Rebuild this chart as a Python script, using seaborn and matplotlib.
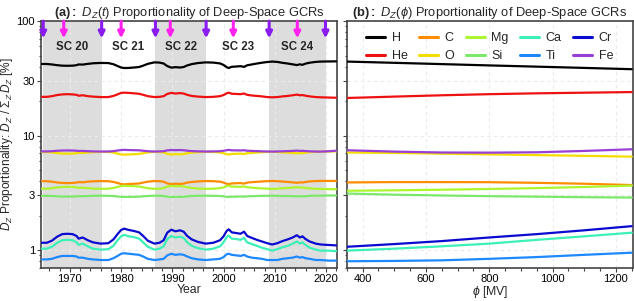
import numpy as np
import pandas as pd
import matplotlib
matplotlib.use("Agg")
import matplotlib.pyplot as plt
from matplotlib.ticker import MultipleLocator, LogLocator, NullFormatter, FixedLocator, FixedFormatter
import seaborn as sns

# ---- panel (a): D_Z(t) ----
years = [1964.5, 1965.5, 1966.5, 1967.5, 1968.5, 1969.5, 1970.5, 1971.3, 1971.7, 1972.5,
         1973.5, 1974.5, 1976.0, 1977.5, 1978.5, 1979.3, 1980.0, 1980.6, 1981.5, 1982.5,
         1983.5, 1984.3, 1985.2, 1986.5, 1987.5, 1988.3, 1989.0, 1989.8, 1990.6, 1991.5,
         1992.2, 1992.9, 1993.8, 1995.0, 1996.5, 1998.0, 1999.3, 2000.0, 2000.6, 2001.0,
         2001.6, 2002.5, 2003.3, 2004.0, 2004.6, 2005.5, 2006.5, 2007.5, 2008.5, 2009.5,
         2010.5, 2011.5, 2012.5, 2013.5, 2014.3, 2014.9, 2015.4, 2016.0, 2016.8, 2018.0,
         2019.0, 2020.5, 2022.0]

H_t = [42.2, 42.2, 41.8, 41.2, 40.8, 40.7, 40.8, 41.2, 41.8, 41.7,
       42.3, 42.8, 43.1, 43.0, 42.0, 40.5, 39.3, 38.9, 39.0, 39.3,
       39.7, 40.8, 42.3, 43.6, 43.4, 42.6, 40.5, 39.2, 39.6, 39.3,
       39.7, 41.0, 42.1, 43.0, 43.6, 43.4, 42.7, 41.4, 39.6, 38.9,
       39.9, 40.1, 40.4, 39.8, 41.1, 41.8, 42.6, 43.3, 43.9, 44.3,
       44.0, 43.2, 42.6, 41.9, 41.3, 41.9, 41.5, 42.5, 43.3, 44.0,
       44.3, 44.4, 44.5]
He_t = [21.8, 21.8, 22.1, 22.6, 22.9, 23.0, 22.9, 22.7, 22.3, 22.5,
        22.1, 21.9, 21.7, 21.7, 22.2, 22.9, 23.6, 23.7, 23.6, 23.4,
        23.2, 22.7, 22.1, 21.7, 21.8, 22.1, 23.1, 23.6, 23.3, 23.5,
        23.3, 22.7, 22.2, 21.9, 21.7, 21.8, 22.1, 22.6, 23.4, 23.7,
        23.2, 23.1, 23.0, 23.3, 22.7, 22.4, 22.2, 22.0, 21.7, 21.6,
        21.7, 22.0, 22.2, 22.5, 22.8, 22.5, 22.6, 22.3, 22.0, 21.7,
        21.6, 21.5, 21.4]
C_t = [4.00, 4.00, 3.96, 3.90, 3.86, 3.85, 3.86, 3.89, 3.93, 3.91,
       3.96, 3.99, 4.01, 4.00, 3.94, 3.86, 3.78, 3.75, 3.78, 3.80,
       3.82, 3.89, 3.96, 4.01, 4.00, 3.96, 3.83, 3.77, 3.80, 3.79,
       3.81, 3.89, 3.94, 3.98, 4.01, 4.00, 3.96, 3.89, 3.80, 3.77,
       3.82, 3.84, 3.85, 3.81, 3.89, 3.92, 3.95, 3.98, 4.00, 4.02,
       4.00, 3.97, 3.94, 3.91, 3.87, 3.91, 3.89, 3.94, 3.98, 4.01,
       4.02, 4.02, 4.02]
O_t = [7.19, 7.19, 7.14, 7.04, 6.97, 6.96, 6.97, 7.02, 7.09, 7.06,
       7.13, 7.18, 7.21, 7.20, 7.11, 6.97, 6.85, 6.81, 6.85, 6.88,
       6.92, 7.02, 7.14, 7.21, 7.19, 7.13, 6.93, 6.84, 6.89, 6.86,
       6.91, 7.02, 7.11, 7.17, 7.21, 7.19, 7.13, 7.02, 6.88, 6.83,
       6.92, 6.94, 6.96, 6.91, 7.02, 7.07, 7.12, 7.17, 7.20, 7.23,
       7.20, 7.14, 7.11, 7.06, 7.00, 7.06, 7.02, 7.10, 7.17, 7.21,
       7.23, 7.26, 7.28]
Mg_t = [3.44, 3.44, 3.47, 3.53, 3.56, 3.57, 3.56, 3.54, 3.50, 3.51,
        3.48, 3.45, 3.43, 3.44, 3.49, 3.56, 3.63, 3.65, 3.63, 3.62,
        3.59, 3.54, 3.47, 3.43, 3.44, 3.48, 3.59, 3.64, 3.61, 3.63,
        3.60, 3.54, 3.49, 3.45, 3.43, 3.44, 3.48, 3.53, 3.62, 3.65,
        3.59, 3.58, 3.57, 3.60, 3.54, 3.51, 3.48, 3.46, 3.44, 3.42,
        3.44, 3.47, 3.49, 3.51, 3.55, 3.51, 3.53, 3.49, 3.46, 3.43,
        3.42, 3.41, 3.40]
Si_t = [2.98, 2.98, 2.97, 2.95, 2.94, 2.94, 2.94, 2.95, 2.96, 2.96,
        2.97, 2.98, 2.99, 2.98, 2.97, 2.94, 2.92, 2.91, 2.92, 2.92,
        2.93, 2.95, 2.97, 2.99, 2.98, 2.97, 2.93, 2.91, 2.92, 2.92,
        2.93, 2.95, 2.97, 2.98, 2.99, 2.98, 2.97, 2.95, 2.92, 2.91,
        2.93, 2.93, 2.94, 2.93, 2.95, 2.96, 2.97, 2.98, 2.98, 2.99,
        2.98, 2.97, 2.97, 2.96, 2.95, 2.96, 2.95, 2.96, 2.98, 2.99,
        2.99, 3.00, 3.00]
Ca_t = [1.03, 1.03, 1.07, 1.16, 1.22, 1.23, 1.22, 1.17, 1.11, 1.14,
        1.08, 1.03, 1.01, 1.02, 1.09, 1.22, 1.32, 1.36, 1.32, 1.30,
        1.26, 1.17, 1.07, 1.01, 1.03, 1.08, 1.25, 1.33, 1.29, 1.31,
        1.28, 1.17, 1.09, 1.04, 1.01, 1.03, 1.08, 1.17, 1.30, 1.34,
        1.26, 1.25, 1.23, 1.28, 1.17, 1.13, 1.09, 1.05, 1.02, 0.99,
        1.02, 1.06, 1.09, 1.14, 1.19, 1.14, 1.17, 1.11, 1.05, 1.01,
        0.99, 0.99, 0.98]
Ti_t = [0.83, 0.83, 0.84, 0.87, 0.89, 0.89, 0.89, 0.88, 0.86, 0.86,
        0.84, 0.83, 0.82, 0.82, 0.85, 0.89, 0.93, 0.94, 0.93, 0.92,
        0.91, 0.88, 0.84, 0.82, 0.83, 0.84, 0.90, 0.93, 0.91, 0.92,
        0.91, 0.88, 0.85, 0.83, 0.82, 0.83, 0.84, 0.87, 0.92, 0.93,
        0.91, 0.90, 0.89, 0.91, 0.88, 0.86, 0.85, 0.84, 0.82, 0.82,
        0.82, 0.84, 0.85, 0.86, 0.88, 0.86, 0.87, 0.85, 0.84, 0.82,
        0.82, 0.81, 0.81]
Cr_t = [1.16, 1.16, 1.21, 1.31, 1.38, 1.39, 1.38, 1.33, 1.26, 1.29,
        1.22, 1.17, 1.14, 1.15, 1.24, 1.38, 1.50, 1.54, 1.50, 1.47,
        1.43, 1.33, 1.21, 1.14, 1.16, 1.22, 1.42, 1.51, 1.46, 1.49,
        1.45, 1.33, 1.24, 1.18, 1.14, 1.16, 1.22, 1.32, 1.47, 1.52,
        1.43, 1.41, 1.39, 1.45, 1.33, 1.28, 1.23, 1.19, 1.15, 1.12,
        1.15, 1.20, 1.24, 1.29, 1.35, 1.29, 1.32, 1.25, 1.19, 1.14,
        1.12, 1.11, 1.10]
Fe_t = [7.28, 7.28, 7.31, 7.37, 7.41, 7.42, 7.41, 7.38, 7.34, 7.35,
        7.31, 7.28, 7.26, 7.27, 7.32, 7.41, 7.48, 7.51, 7.48, 7.46,
        7.44, 7.38, 7.31, 7.26, 7.28, 7.31, 7.43, 7.49, 7.46, 7.48,
        7.45, 7.38, 7.32, 7.29, 7.26, 7.28, 7.31, 7.37, 7.46, 7.50,
        7.44, 7.43, 7.42, 7.45, 7.38, 7.35, 7.32, 7.29, 7.27, 7.25,
        7.27, 7.30, 7.32, 7.35, 7.39, 7.35, 7.37, 7.33, 7.29, 7.26,
        7.25, 7.30, 7.38]

# ---- panel (b): D_Z(phi) ----
phi = [350, 500, 650, 800, 950, 1100, 1250]
H_p = [44.3, 43.2, 42.1, 41.0, 40.0, 39.0, 38.0]
He_p = [21.3, 21.9, 22.5, 23.0, 23.4, 23.7, 24.0]
C_p = [3.90, 3.93, 3.93, 3.92, 3.87, 3.80, 3.70]
O_p = [7.12, 7.06, 6.96, 6.86, 6.76, 6.66, 6.55]
Mg_p = [3.30, 3.33, 3.37, 3.42, 3.48, 3.56, 3.66]
Si_p = [3.12, 3.05, 3.00, 2.96, 2.93, 2.90, 2.88]
Ca_p = [0.99, 1.03, 1.08, 1.14, 1.23, 1.32, 1.42]
Ti_p = [0.80, 0.805, 0.815, 0.84, 0.87, 0.91, 0.95]
Cr_p = [1.07, 1.13, 1.20, 1.29, 1.38, 1.49, 1.62]
Fe_p = [7.45, 7.25, 7.12, 7.10, 7.15, 7.35, 7.60]

elements = ["H", "He", "C", "O", "Mg", "Si", "Ca", "Ti", "Cr", "Fe"]
colors = {"H": "#000000", "He": "#ee1111", "C": "#ff8c00", "O": "#f5dc00",
          "Mg": "#adf52f", "Si": "#7ce86a", "Ca": "#3cf0b8", "Ti": "#1e88ff",
          "Cr": "#0a0ad0", "Fe": "#9a3fd6"}

# solar cycle minima / maxima
sc_min = [1964.8, 1976.2, 1986.7, 1996.6, 2008.9, 2019.9]
sc_max = [1968.8, 1980.0, 1989.6, 2001.9, 2014.4]
sc_names = ["SC 20", "SC 21", "SC 22", "SC 23", "SC 24"]

series_t = [H_t, He_t, C_t, O_t, Mg_t, Si_t, Ca_t, Ti_t, Cr_t, Fe_t]
series_p = [H_p, He_p, C_p, O_p, Mg_p, Si_p, Ca_p, Ti_p, Cr_p, Fe_p]

df_t = pd.concat([pd.DataFrame({"Year": years, "D": v, "Z": z})
                  for z, v in zip(elements, series_t)], ignore_index=True)
df_p = pd.concat([pd.DataFrame({"phi": phi, "D": v, "Z": z})
                  for z, v in zip(elements, series_p)], ignore_index=True)

sns.set_style("ticks")
plt.rcParams["font.family"] = ["Liberation Sans", "DejaVu Sans"]
plt.rcParams["mathtext.fontset"] = "custom"
plt.rcParams["mathtext.rm"] = "Liberation Sans"
plt.rcParams["mathtext.it"] = "Liberation Sans:italic"
plt.rcParams["mathtext.bf"] = "Liberation Sans:bold"

fig = plt.figure(figsize=(6.34, 3.01), dpi=100)
ax1 = fig.add_axes([0.065, 0.11, 0.467, 0.82])
ax2 = fig.add_axes([0.547, 0.11, 0.451, 0.82], sharey=ax1)

# shaded even cycles
for i in (0, 2, 4):
    ax1.axvspan(sc_min[i], sc_min[i + 1], color="#dddddd", lw=0, zorder=0)

sns.lineplot(data=df_t, x="Year", y="D", hue="Z", palette=colors, hue_order=elements,
             linewidth=1.6, ax=ax1, legend=False, sort=False, zorder=3)
sns.lineplot(data=df_p, x="phi", y="D", hue="Z", palette=colors, hue_order=elements,
             linewidth=1.6, ax=ax2, legend=True, sort=False, zorder=3)

for ax in (ax1, ax2):
    ax.set_yscale("log")
    ax.set_ylim(0.7, 100)
    ax.grid(True, which="major", ls=(0, (3, 3)), color="#ebebeb", lw=0.8, zorder=1)
    ax.yaxis.set_minor_locator(LogLocator(base=10, subs=np.arange(2, 10)))
    ax.yaxis.set_minor_formatter(NullFormatter())
    ax.tick_params(which="both", direction="out", colors="#444444", labelcolor="black",
                   labelsize=8, width=0.8, pad=1.5)
    ax.tick_params(which="major", length=3)
    ax.tick_params(which="minor", length=1.8)
    for s in ax.spines.values():
        s.set_color("#444444")
        s.set_linewidth(1.2)

ax1.yaxis.set_major_locator(FixedLocator([1, 3, 10, 30, 100]))
ax1.yaxis.set_major_formatter(FixedFormatter(["1", "3", "10", "30", "100"]))
ax2.tick_params(axis="y", labelleft=False)

ax1.set_xlim(1964.4, 2022.2)
ax1.xaxis.set_major_locator(MultipleLocator(10))
ax1.xaxis.set_minor_locator(MultipleLocator(2))
ax2.set_xlim(350, 1253)
ax2.xaxis.set_major_locator(MultipleLocator(200))
ax2.xaxis.set_minor_locator(MultipleLocator(50))

ax1.set_xlabel("Year", fontsize=8.8, labelpad=0)
ax2.set_xlabel(r"$\phi$ [MV]", fontsize=8.8, labelpad=0)
ax1.set_ylabel(r"$D_Z$ Proportionality: $D_Z\ /\ \Sigma_Z\,D_Z$ [%]", fontsize=8.6, labelpad=1)
ax2.set_ylabel("")

ax1.set_title(r"$\mathbf{(a):}$ $D_Z(t)$ Proportionality of Deep-Space GCRs", fontsize=9.3, pad=3)
ax2.set_title(r"$\mathbf{(b):}$ $D_Z(\phi)$ Proportionality of Deep-Space GCRs", fontsize=9.3, pad=3)

# cycle labels and arrows
for i, name in enumerate(sc_names):
    ax1.text((sc_min[i] + sc_min[i + 1]) / 2, 0.893, name, transform=ax1.get_xaxis_transform(),
             ha="center", va="center", fontsize=8.3, fontweight="bold", zorder=5)
for x in sc_min:
    ax1.annotate("", xy=(x, 0.93), xytext=(x, 1.0), xycoords=ax1.get_xaxis_transform(),
                 arrowprops=dict(arrowstyle="-|>", color="#8a1cf0", lw=2.2,
                                 mutation_scale=9, shrinkA=0, shrinkB=0), zorder=6)
for x in sc_max:
    ax1.annotate("", xy=(x, 0.93), xytext=(x, 1.0), xycoords=ax1.get_xaxis_transform(),
                 arrowprops=dict(arrowstyle="-|>", color="#ff22ee", lw=2.2,
                                 mutation_scale=9, shrinkA=0, shrinkB=0), zorder=6)

handles, labels = ax2.get_legend_handles_labels()
ax2.legend(handles, labels, ncol=5, loc="upper center", bbox_to_anchor=(0.5, 1.0),
           frameon=False, fontsize=9, handlelength=1.5, columnspacing=0.9,
           handletextpad=0.55, labelspacing=0.45)
for line in ax2.get_legend().get_lines():
    line.set_linewidth(2.2)

fig.savefig("out.png", dpi=100)
